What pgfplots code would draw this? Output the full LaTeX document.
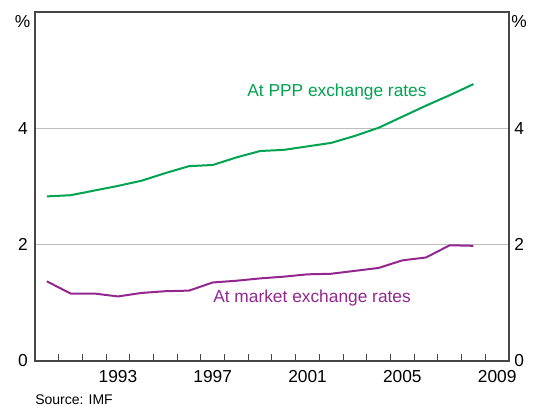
\documentclass[border=0pt]{standalone}
\usepackage{pgfplots}
\pgfplotsset{compat=1.18}
\usepackage{fontspec}
\setmainfont{Liberation Sans}
\definecolor{ppp}{RGB}{0,163,80}
\definecolor{mkt}{RGB}{146,39,143}
\definecolor{axgray}{RGB}{70,70,70}
\definecolor{gridgray}{RGB}{190,190,190}
\pgfplotstableread{
year ppp mkt
1990 2.83 1.37
1991 2.85 1.16
1992 2.93 1.16
1993 3.01 1.11
1994 3.10 1.17
1995 3.23 1.20
1996 3.35 1.21
1997 3.37 1.35
1998 3.50 1.38
1999 3.61 1.42
2000 3.63 1.45
2001 3.69 1.49
2002 3.75 1.50
2003 3.87 1.55
2004 4.01 1.60
2005 4.20 1.73
2006 4.39 1.78
2007 4.57 1.99
2008 4.76 1.98
}\datatable
\begin{document}
\begin{tikzpicture}
\path[use as bounding box] (-26.25pt,-33.75pt) rectangle (378pt,270.75pt);
\begin{axis}[
  at={(0,0)}, anchor=south west, scale only axis,
  width=355.5pt, height=261.75pt,
  xmin=1989.5, xmax=2009.5, ymin=0, ymax=6,
  axis line style={axgray, line width=1pt},
  xtick={1993,1997,2001,2005,2009},
  minor xtick={1990.5,1991.5,...,2008.5},
  major tick length=0pt, minor tick length=5.25pt,
  tick align=inside, xtick pos=bottom, ytick pos=left,
  minor tick style={axgray, line width=0.75pt},
  xticklabel style={font=\fontsize{13}{15}\selectfont, yshift=-3.2pt},
  x tick label style={/pgf/number format/1000 sep={}},
  ytick={0,2,4},
  yticklabel style={font=\fontsize{13}{15}\selectfont, xshift=-1.8pt},
  /pgf/number format/assume math mode=true,
  ymajorgrids, grid style={gridgray, line width=0.75pt},
  clip=false,
]
\addplot[ppp, line width=1.5pt] table[x=year, y=ppp] {\datatable};
\addplot[mkt, line width=1.5pt] table[x=year, y=mkt] {\datatable};
\node[text=ppp, font=\fontsize{13}{15}\selectfont] at (axis cs:2002.24,4.62) {At PPP exchange rates};
\node[text=mkt, font=\fontsize{13}{15}\selectfont] at (axis cs:2001.19,1.078) {At market exchange rates};
\node[font=\fontsize{13}{15}\selectfont] at ([xshift=-9.4pt, yshift=-7.5pt]rel axis cs:0,1) {\%};
\node[font=\fontsize{13}{15}\selectfont] at ([xshift=7.5pt, yshift=-7.5pt]rel axis cs:1,1) {\%};
\node[anchor=west, inner sep=0pt, font=\fontsize{10.5}{12}\selectfont] at ([yshift=-29pt]rel axis cs:0,0) {Source: IMF};
\end{axis}
\begin{axis}[
  at={(0,0)}, anchor=south west, scale only axis,
  width=355.5pt, height=261.75pt,
  xmin=1989.5, xmax=2009.5, ymin=0, ymax=6,
  hide x axis, axis y line*=right,
  axis line style={axgray, line width=1pt},
  major tick length=0pt,
  ytick={0,2,4},
  yticklabel style={font=\fontsize{13}{15}\selectfont, xshift=0.4pt},
  /pgf/number format/assume math mode=true,
]
\end{axis}
\end{tikzpicture}
\end{document}
